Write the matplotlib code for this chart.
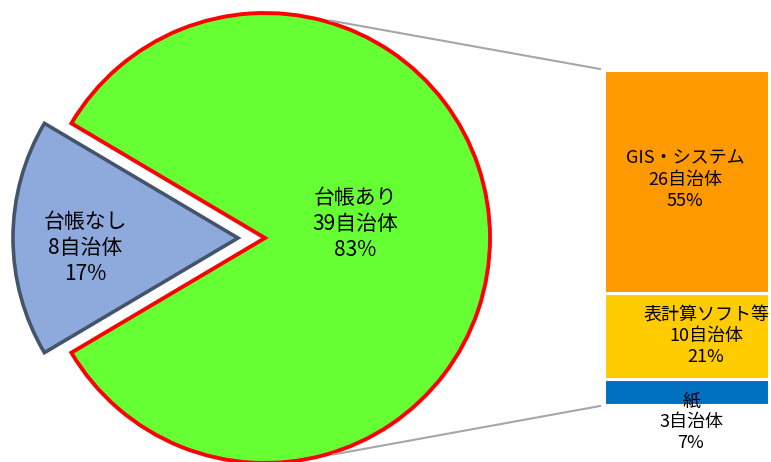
import numpy as np
import matplotlib
matplotlib.use("Agg")
import matplotlib.pyplot as plt

plt.rcParams["font.family"] = ["Noto Sans CJK JP", "DejaVu Sans"]

# Pie: with / without a ledger
pie_labels = ["台帳あり", "台帳なし"]
pie_counts = [39, 8]
pie_pct = [83, 17]

# Breakdown of "台帳あり" (bottom to top in the bar)
bar_labels = ["紙", "表計算ソフト等", "GIS・システム"]
bar_counts = [3, 10, 26]
bar_pct = [7, 21, 55]

GREEN = "#66FF33"
RED = "#FF0000"
SLATE = "#8EA9DB"
SLATE_EDGE = "#44546A"
BAR_COLORS = ["#0070C0", "#FFCC00", "#FF9900"]
LINE_GRAY = "#A6A6A6"

W, H = 771, 462
fig = plt.figure(figsize=(W / 100, H / 100), dpi=100)
ax = fig.add_axes([0, 0, 1, 1])

# pixel-like layout units
cx, cy, r = 265, 224, 225
explode = 27          # pie() takes the offset in data units
start = -360 * pie_counts[0] / sum(pie_counts) / 2

wedges, _ = ax.pie(pie_counts, colors=[GREEN, SLATE], explode=[0, explode],
                   startangle=start, center=(cx, cy), radius=r,
                   wedgeprops=dict(linewidth=2.8))
wedges[0].set_edgecolor(RED)
wedges[1].set_edgecolor(SLATE_EDGE)
wedges[1].set_linewidth(2.6)

# stacked bar on the right
bar_x, bar_w = 686.5, 165
px_per_unit = 335 / sum(bar_counts)
bar_base = 57
bottoms = bar_base + np.concatenate([[0], np.cumsum(bar_counts)[:-1]]) * px_per_unit
heights = np.array(bar_counts) * px_per_unit
ax.bar([bar_x] * 3, heights, bottom=bottoms, width=bar_w, color=BAR_COLORS,
       edgecolor="white", linewidth=2.2, zorder=2)

# connector lines from pie rim to the bar corners
bar_top = bottoms[-1] + heights[-1]
bar_left = bar_x - bar_w / 2 - 4
for ang, y_end in [(73.4, bar_top + 1), (-72.5, bar_base - 1)]:
    a = np.radians(ang)
    ax.plot([cx + (r + 2) * np.cos(a), bar_left], [cy + (r + 2) * np.sin(a), y_end],
            color=LINE_GRAY, linewidth=1.5, zorder=1)

FS_PIE = 15
FS_BAR = 13
LS = 1.22

# pie labels
ax.text(cx + 0.40 * r, cy + 14,
        f"{pie_labels[0]}\n{pie_counts[0]}自治体\n{pie_pct[0]}%",
        ha="center", va="center", fontsize=FS_PIE, linespacing=LS, zorder=3)
ax.text(cx - explode - 0.68 * r, cy - 10,
        f"{pie_labels[1]}\n{pie_counts[1]}自治体\n{pie_pct[1]}%",
        ha="center", va="center", fontsize=FS_PIE, linespacing=LS, zorder=3)

# bar labels
offsets = [(4.5, -30), (19.5, 0), (-1.5, 2)]
for lab, n, p, b, h, (dx, dy) in zip(bar_labels, bar_counts, bar_pct,
                                     bottoms, heights, offsets):
    ax.text(bar_x + dx, b + h / 2 + dy, f"{lab}\n{n}自治体\n{p}%",
            ha="center", va="center", fontsize=FS_BAR, linespacing=LS, zorder=3)

ax.set_xlim(0, W)
ax.set_ylim(0, H)
ax.set_aspect("auto")
ax.axis("off")

fig.savefig("out.png", dpi=100, facecolor="white")
